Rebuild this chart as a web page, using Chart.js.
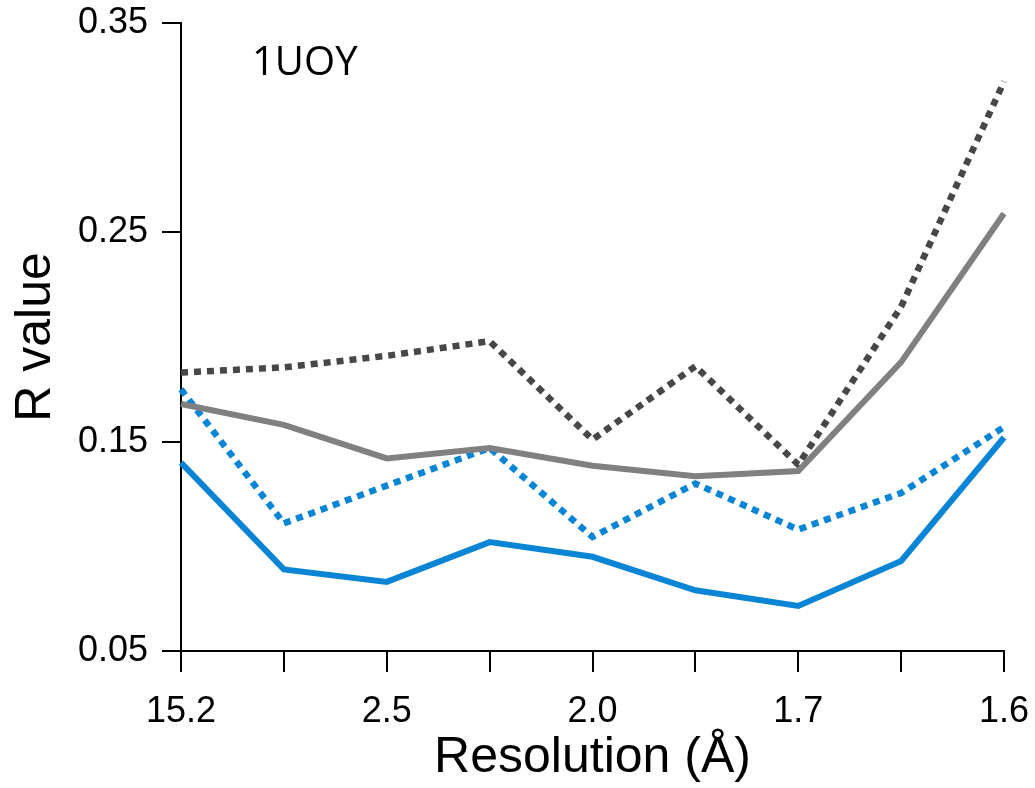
<!DOCTYPE html>
<html lang="en">
<head>
<meta charset="UTF-8">
<title>1UOY R value vs resolution</title>
<script src="https://cdn.jsdelivr.net/npm/chart.js"></script>
<style>
  body { margin: 0; background: #fff; }
  #wrap { width: 1035px; height: 788px; }
</style>
</head>
<body>
<div id="wrap"><canvas id="rChart"></canvas></div>
<script>
// Resolution shells (only every other one is labelled)
const resolutionLabels = ['15.2', '', '2.5', '', '2.0', '', '1.7', '', '1.6'];
const yTicks = [0.05, 0.15, 0.25, 0.35];

// R values per shell
const blueSolid  = [0.140, 0.089, 0.083, 0.102, 0.095, 0.079, 0.0715, 0.093, 0.152];
const blueDotted = [0.175, 0.111, 0.129, 0.147, 0.1045, 0.130, 0.108, 0.1255, 0.157];
const graySolid  = [0.168, 0.158, 0.142, 0.147, 0.1385, 0.1335, 0.136, 0.188, 0.259];
const grayDotted = [0.183, 0.1855, 0.191, 0.198, 0.151, 0.186, 0.139, 0.2145, 0.322];

const structureLabel = '1UOY';

// draws the structure id in the upper left of the plot
const labelPlugin = {
  id: 'structureLabel',
  afterDraw(chart) {
    const { ctx, chartArea } = chart;
    ctx.save();
    ctx.font = '40px "Open Sans", "Noto Sans", sans-serif';
    ctx.fillStyle = '#000';
    ctx.textBaseline = 'alphabetic';
    ctx.fillText(structureLabel, chartArea.left + 71, chartArea.top + 52);
    ctx.restore();
  }
};

const lineStyle = {
  pointRadius: 0,
  tension: 0,
  fill: false,
  borderCapStyle: 'butt',
  borderJoinStyle: 'miter'
};

const ctx = document.getElementById('rChart').getContext('2d');
new Chart(ctx, {
  type: 'line',
  data: {
    labels: resolutionLabels,
    datasets: [
      { ...lineStyle, data: graySolid, borderColor: '#808080', borderWidth: 6 },
      { ...lineStyle, data: blueSolid, borderColor: '#0A85D6', borderWidth: 6 },
      { ...lineStyle, data: blueDotted, borderColor: '#0A85D6', borderWidth: 6.5, borderDash: [7, 6] },
      { ...lineStyle, data: grayDotted, borderColor: '#474747', borderWidth: 6.5, borderDash: [7, 6] }
    ]
  },
  options: {
    responsive: true,
    maintainAspectRatio: false,
    animation: false,
    layout: { padding: { top: 23, right: 31, left: 0, bottom: 0 } },
    plugins: {
      legend: { display: false },
      tooltip: { enabled: false }
    },
    scales: {
      x: {
        type: 'category',
        offset: false,
        grid: { drawOnChartArea: false, drawTicks: true, tickLength: 21, color: '#000', lineWidth: 2 },
        border: { display: true, color: '#000', width: 2 },
        ticks: {
          autoSkip: false,
          maxRotation: 0,
          color: '#000',
          padding: 18,
          font: { family: '"Liberation Sans", Arial, sans-serif', size: 36 }
        },
        title: {
          display: true,
          text: 'Resolution (Å)',
          color: '#000',
          padding: { top: 0, bottom: 0 },
          font: { family: '"Liberation Sans", Arial, sans-serif', size: 50 }
        },
        afterFit(scale) {
          scale.height = 137;
          scale.paddingLeft = 0;
          scale.paddingRight = 0;
        }
      },
      y: {
        min: 0.05,
        max: 0.35,
        grid: { drawOnChartArea: false, drawTicks: true, tickLength: 19, color: '#000', lineWidth: 2 },
        border: { display: true, color: '#000', width: 2 },
        afterBuildTicks(scale) { scale.ticks = yTicks.map(v => ({ value: v })); },
        ticks: {
          color: '#000',
          padding: 14,
          font: { family: '"Liberation Sans", Arial, sans-serif', size: 36 },
          callback: v => v.toFixed(2)
        },
        title: {
          display: true,
          text: 'R value',
          color: '#000',
          padding: { top: 6, bottom: 0 },
          font: { family: '"Liberation Sans", Arial, sans-serif', size: 50 }
        },
        afterFit(scale) {
          scale.width = 181;
          scale.paddingTop = 0;
          scale.paddingBottom = 0;
        }
      }
    }
  },
  plugins: [labelPlugin]
});
</script>
</body>
</html>
